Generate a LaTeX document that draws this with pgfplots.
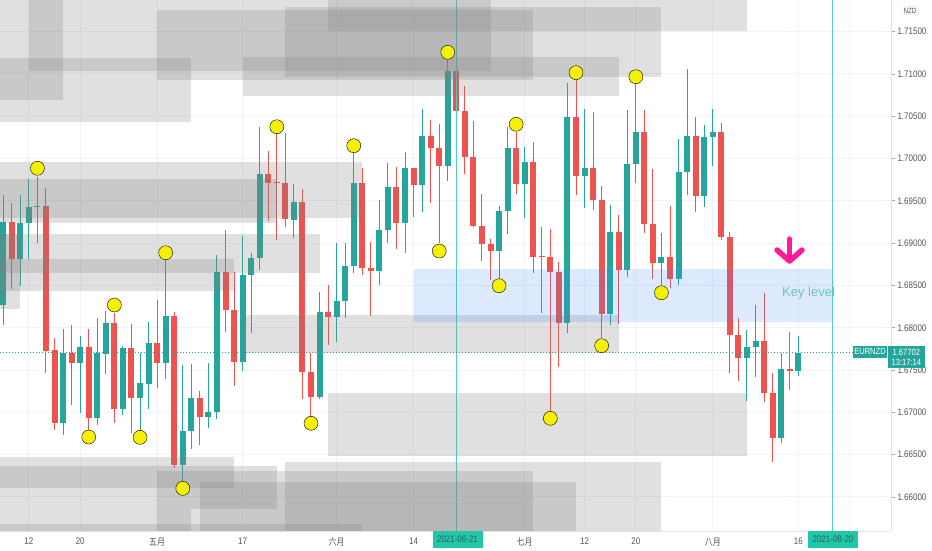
\documentclass[border=0pt]{standalone}
\usepackage{fontspec}
\setmainfont{Liberation Sans}
\newfontfamily\tvfont[FakeStretch=0.84]{Liberation Sans}
\newfontfamily\cjk[FakeStretch=0.84]{Noto Sans CJK SC}
\usepackage{pgfplots}
\usepackage{pgfplotstable}
\pgfplotsset{compat=1.18}

\definecolor{tvup}{RGB}{38,166,154}
\definecolor{tvdown}{RGB}{239,83,80}
\definecolor{tvgrid}{RGB}{240,243,250}
\definecolor{tvborder}{RGB}{224,227,235}
\definecolor{tvtext}{RGB}{80,83,94}
\definecolor{vline}{RGB}{80,210,200}
\definecolor{dotc}{RGB}{245,240,0}
\definecolor{keyblue}{RGB}{66,133,244}
\definecolor{pinkarrow}{RGB}{255,26,150}
\definecolor{datebox}{RGB}{32,200,170}
\definecolor{datetext}{RGB}{45,95,85}
\definecolor{keytext}{RGB}{110,195,185}

\pgfplotstableread{
i o h l c
-3 1.68269 1.69569 1.68033 1.69254
-1 1.68809 1.69569 1.68494 1.69242
0 1.69235 1.69758 1.68813 1.69431
1 1.69424 1.69785 1.69002 1.69443
4 1.66878 1.67985 1.66732 1.67698
6 1.67580 1.67903 1.66989 1.67776
8 1.66930 1.68115 1.66851 1.67698
9 1.67690 1.68198 1.67450 1.68053
11 1.67036 1.67784 1.66969 1.67757
13 1.67166 1.67698 1.66709 1.67343
14 1.67335 1.68072 1.67036 1.67816
16 1.67580 1.68801 1.67391 1.68139
18 1.66378 1.67560 1.66189 1.66783
19 1.66780 1.67572 1.66567 1.67166
21 1.66949 1.67587 1.66812 1.67008
22 1.67001 1.68860 1.66918 1.68663
25 1.67599 1.69085 1.67492 1.68624
26 1.68624 1.68880 1.67934 1.68828
27 1.68828 1.70369 1.68683 1.69817
31 1.69274 1.69696 1.69057 1.69483
34 1.67185 1.68423 1.67154 1.68186
36 1.68124 1.69005 1.67835 1.68320
37 1.68320 1.69005 1.68112 1.68733
38 1.68733 1.70062 1.68644 1.69715
41 1.68671 1.69510 1.68505 1.69155
42 1.69155 1.69944 1.68998 1.69667
44 1.69235 1.70074 1.68887 1.69885
46 1.69687 1.70586 1.69372 1.70270
49 1.69915 1.71185 1.69735 1.71035
55 1.68911 1.69439 1.68564 1.69380
56 1.69380 1.70369 1.69105 1.70128
58 1.69699 1.70133 1.69294 1.69963
63 1.68053 1.70897 1.67942 1.70488
65 1.69794 1.70582 1.69419 1.69885
68 1.68163 1.69447 1.68033 1.69132
70 1.68683 1.70574 1.68596 1.69936
71 1.69936 1.70960 1.69707 1.70317
74 1.68769 1.69124 1.68505 1.68840
76 1.68576 1.70231 1.68505 1.69837
77 1.69837 1.71055 1.69569 1.70267
79 1.69557 1.70397 1.69431 1.70251
80 1.70251 1.70582 1.69912 1.70310
84 1.67639 1.67973 1.67138 1.67776
85 1.67776 1.68265 1.67421 1.67843
88 1.66700 1.67698 1.66634 1.67509
90 1.67489 1.67903 1.67430 1.67702
}\upcandles

\pgfplotstableread{
i o h l c
-2 1.69254 1.69475 1.68458 1.68809
2 1.69443 1.69652 1.67469 1.67725
3 1.67737 1.67879 1.66791 1.66878
5 1.67698 1.68033 1.67087 1.67580
7 1.67776 1.67985 1.66791 1.66930
10 1.68053 1.68171 1.66878 1.67036
12 1.67757 1.68044 1.66760 1.67166
15 1.67816 1.68328 1.67284 1.67580
17 1.68139 1.68190 1.66339 1.66378
20 1.67166 1.67256 1.66614 1.66949
23 1.68663 1.69155 1.67953 1.68210
24 1.68210 1.68663 1.67312 1.67599
28 1.69817 1.70089 1.69265 1.69715
29 1.69719 1.70298 1.69037 1.69707
30 1.69707 1.70298 1.69194 1.69282
32 1.69483 1.69637 1.67154 1.67481
33 1.67481 1.67698 1.66949 1.67185
35 1.68186 1.68505 1.67796 1.68124
39 1.69715 1.69885 1.68624 1.68703
40 1.68703 1.69017 1.68139 1.68671
43 1.69667 1.69904 1.68927 1.69235
45 1.69885 1.69885 1.69306 1.69687
47 1.70270 1.70456 1.69478 1.70128
48 1.70128 1.70408 1.68998 1.69915
50 1.71035 1.71035 1.70550 1.70566
51 1.70566 1.70858 1.69814 1.70015
52 1.70015 1.70447 1.69187 1.69203
53 1.69203 1.69581 1.68793 1.68990
54 1.68990 1.69046 1.68564 1.68911
57 1.70128 1.70317 1.69577 1.69699
59 1.69963 1.70192 1.68651 1.68840
60 1.68848 1.69194 1.68171 1.68833
61 1.68840 1.69164 1.67004 1.68663
62 1.68663 1.68781 1.67540 1.68053
64 1.70488 1.70928 1.69569 1.69794
66 1.69885 1.70554 1.69392 1.69510
67 1.69510 1.69676 1.67875 1.68163
69 1.69132 1.69329 1.68041 1.68683
72 1.70317 1.70574 1.69116 1.69226
73 1.69226 1.69873 1.68573 1.68769
75 1.68840 1.69439 1.68473 1.68576
78 1.70267 1.70495 1.69372 1.69557
81 1.70310 1.70424 1.69037 1.69076
82 1.69076 1.69128 1.67469 1.67911
83 1.67911 1.68119 1.67371 1.67639
86 1.67843 1.68407 1.67126 1.67225
87 1.67225 1.67462 1.66417 1.66700
89 1.67509 1.67953 1.67264 1.67489
}\downcandles

\pgfplotstableread{
i p
1 1.69885
7 1.66709
10 1.68269
13 1.66705
16 1.68887
18 1.66102
29 1.70376
33 1.66871
38 1.70152
48 1.68907
49 1.71256
55 1.68497
57 1.70405
61 1.66930
64 1.71015
67 1.67788
71 1.70967
74 1.68414
}\dots

\tikzset{zone/.style={fill=black!50, fill opacity=0.245}}

\begin{document}
\begin{tikzpicture}
\useasboundingbox (0pt,-19pt) rectangle (932pt,531pt);
\begin{axis}[
  at={(0pt,0pt)}, anchor=south west,
  scale only axis, width=891pt, height=531pt,
  xmin=-3.381, xmax=100.85, ymin=1.65598, ymax=1.71874,
  clip=false,
  axis x line*=bottom, axis y line*=right,
  axis line style={-, draw=tvborder, line width=1pt},
  xtick={0,6,15,25,36,45,58,65,71,80,90},
  xticklabels={12,20,{\cjk 五月},17,{\cjk 六月},14,{\cjk 七月},12,20,{\cjk 八月},16},
  ytick={1.660,1.665,1.670,1.675,1.680,1.685,1.690,1.695,1.700,1.705,1.710,1.715},
  yticklabels={1.66000,1.66500,1.67000,1.67500,1.68000,1.68500,1.69000,1.69500,1.70000,1.70500,1.71000,1.71500},
  xtick style={draw=none},
  ytick style={draw=black!35, line width=0.8pt},
  tick align=outside, major tick length=4pt,
  grid=major, major grid style={draw=tvgrid, line width=1pt},
  tick label style={font=\tvfont\fontsize{9.5}{11}\selectfont, text=tvtext},
  yticklabel style={anchor=west, xshift=-1pt},
  xticklabel style={yshift=1pt},
  candle/.style={draw=none, mark=none, forget plot},
]
\draw[tvgrid, line width=1pt] (axis cs:96,1.65598) -- (axis cs:96,1.71874);

% wicks
\addplot[candle,
  error bars/.cd, y dir=both, y explicit, error mark=none,
  error bar style={line width=1pt, draw=tvup}]
  table[x=i, y=o, y error plus expr=\thisrow{h}-\thisrow{o}, y error minus expr=\thisrow{o}-\thisrow{l}] {\upcandles};
\addplot[candle,
  error bars/.cd, y dir=both, y explicit, error mark=none,
  error bar style={line width=1pt, draw=tvdown}]
  table[x=i, y=o, y error plus expr=\thisrow{h}-\thisrow{o}, y error minus expr=\thisrow{o}-\thisrow{l}] {\downcandles};
% bodies
\addplot[candle,
  error bars/.cd, y dir=plus, y explicit, error mark=none,
  error bar style={line width=6pt, draw=tvup}]
  table[x=i, y=o, y error plus expr=\thisrow{c}-\thisrow{o}] {\upcandles};
\addplot[candle,
  error bars/.cd, y dir=minus, y explicit, error mark=none,
  error bar style={line width=6pt, draw=tvdown}]
  table[x=i, y=o, y error minus expr=\thisrow{o}-\thisrow{c}] {\downcandles};

% vertical lines
\draw[vline, line width=1pt] (axis cs:50,1.65598) -- (axis cs:50,1.71874);
\draw[vline, line width=1pt] (axis cs:94,1.65598) -- (axis cs:94,1.71874);

% yellow dots
\addplot[only marks, mark=*, mark size=7pt, mark options={fill=dotc, draw=none}]
  table[x=i, y=p] {\dots};

% current price line
\draw[tvup, line width=1pt, dash pattern=on 1pt off 2pt] (axis cs:-3.381,1.67702) -- (axis cs:96.44,1.67702);

% zones
\fill[zone] (axis cs:0,1.71035) rectangle (axis cs:54,1.71874);
\fill[zone] (axis cs:-3.381,1.70692) rectangle (axis cs:4,1.71874);
\fill[zone] (axis cs:-3.381,1.70428) rectangle (axis cs:19,1.71185);
\fill[zone] (axis cs:15,1.70928) rectangle (axis cs:59,1.71756);
\fill[zone] (axis cs:30,1.70967) rectangle (axis cs:74,1.71788);
\fill[zone] (axis cs:35,1.71511) rectangle (axis cs:84,1.71874);
\fill[zone] (axis cs:25,1.70739) rectangle (axis cs:69,1.71197);
\fill[zone] (axis cs:-3.381,1.69294) rectangle (axis cs:39,1.69956);
\fill[zone] (axis cs:-3.381,1.69242) rectangle (axis cs:29,1.69755);
\fill[zone] (axis cs:-3.381,1.68644) rectangle (axis cs:34,1.69108);
\fill[zone] (axis cs:-3.381,1.68438) rectangle (axis cs:24,1.68809);
\fill[zone] (axis cs:-3.381,1.68218) rectangle (axis cs:-1,1.69108);
\fill[zone] (axis cs:25,1.67698) rectangle (axis cs:69,1.68151);
\fill[zone] (axis cs:35,1.66488) rectangle (axis cs:84,1.67232);
\fill[zone] (axis cs:-3.381,1.66109) rectangle (axis cs:24,1.66476);
\fill[zone] (axis cs:-3.381,1.65854) rectangle (axis cs:29,1.66369);
\fill[zone] (axis cs:15,1.65598) rectangle (axis cs:59,1.66310);
\fill[zone] (axis cs:30,1.65598) rectangle (axis cs:74,1.66413);
\fill[zone] (axis cs:20,1.65598) rectangle (axis cs:64,1.66173);
\fill[zone] (axis cs:-3.381,1.65598) rectangle (axis cs:19,1.65854);
\fill[zone] (axis cs:-3.381,1.65598) rectangle (axis cs:39,1.65680);
% key level box
\fill[keyblue, fill opacity=0.18] (axis cs:45,1.68068) rectangle (axis cs:94,1.68694);
\node[anchor=west, text=keytext, font=\fontsize{13}{15}\selectfont, inner sep=0pt] at (axis cs:88.1,1.68407) {Key level};
% arrow
\draw[pinkarrow, line width=5.5pt, line cap=round, line join=round] (axis cs:88.98,1.69049) -- (axis cs:88.98,1.68800);
\draw[pinkarrow, line width=5.5pt, line cap=round, line join=round] (axis cs:87.52,1.68919) -- (axis cs:88.98,1.68789) -- (axis cs:90.44,1.68919);
\end{axis}

% labels outside the plot area
\node[fill=datebox, text=datetext, font=\tvfont\fontsize{9.5}{11}\selectfont, minimum width=50pt, minimum height=17pt, inner sep=0pt] at (457.5pt,-8.5pt) {2021-06-21};
\node[fill=datebox, text=datetext, font=\tvfont\fontsize{9.5}{11}\selectfont, minimum width=50pt, minimum height=17pt, inner sep=0pt] at (833pt,-8.5pt) {2021-08-20};
\node[fill=tvup, text=white, font=\tvfont\fontsize{9}{10}\selectfont, minimum width=33.4pt, minimum height=11.7pt, inner sep=0pt] at (870pt,179.1pt) {EURNZD};
\node[fill=tvup, text=white, align=center, font=\tvfont\fontsize{9}{10.5}\selectfont, minimum width=37.3pt, minimum height=22.3pt, inner sep=0pt] at (906.3pt,173.8pt) {1.67702\\13:17:14};
\node[draw=tvborder, rounded corners=2pt, text=tvtext, font=\tvfont\fontsize{7.5}{8}\selectfont, inner sep=1.6pt, fill=white] at (910pt,520.5pt) {NZD};
\end{tikzpicture}
\end{document}
